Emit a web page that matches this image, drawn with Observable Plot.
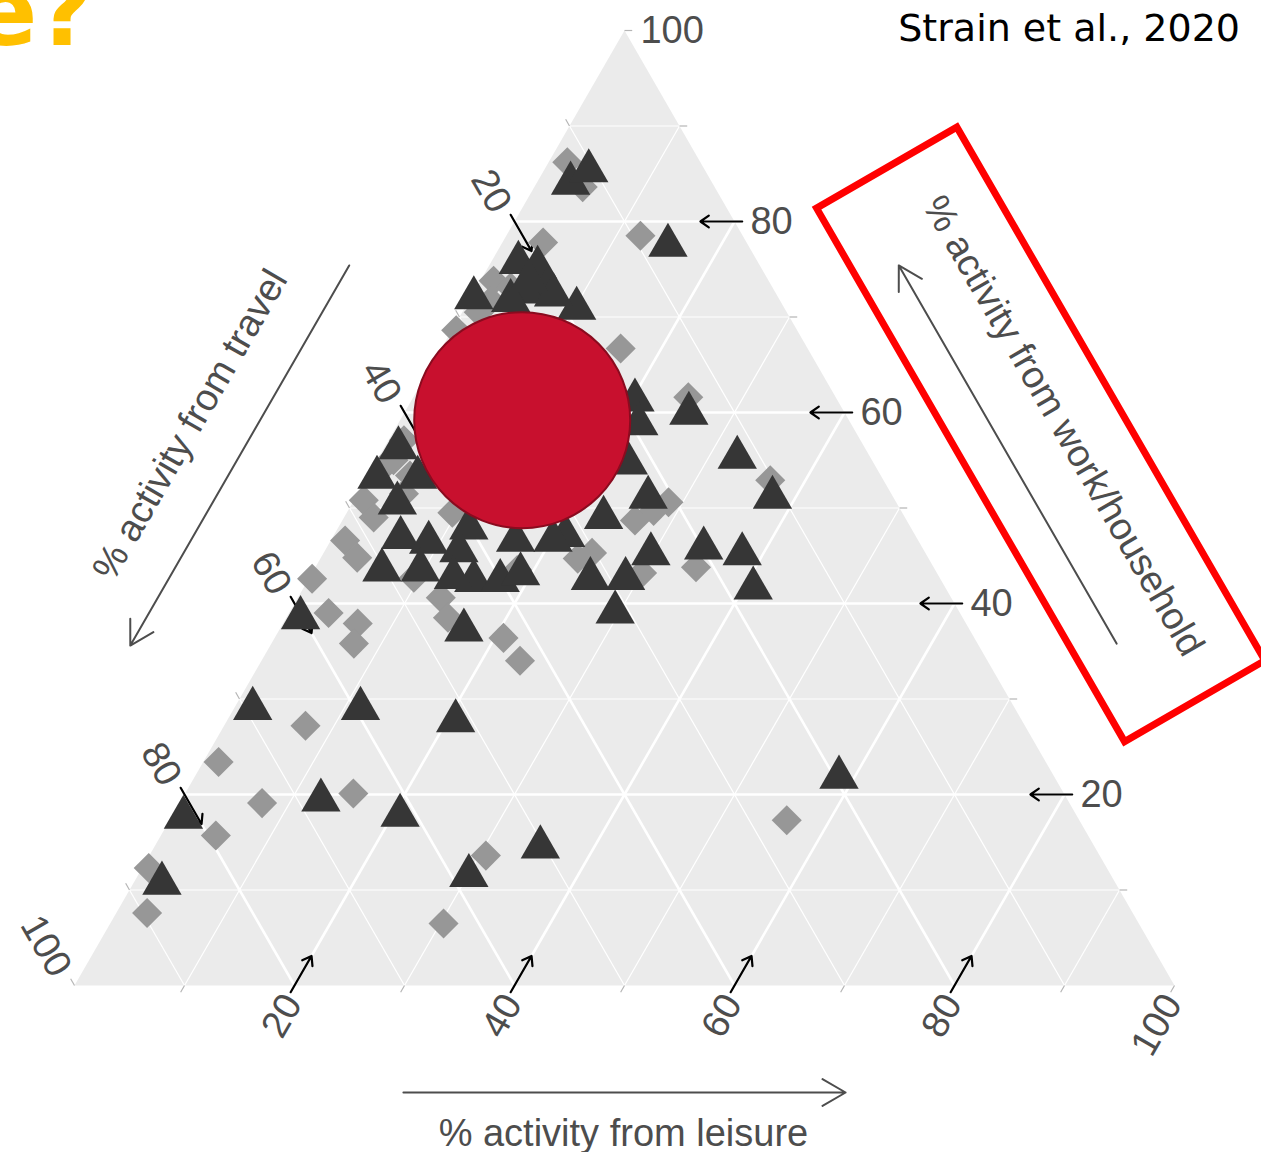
<!DOCTYPE html>
<html>
<head>
<meta charset="utf-8">
<script src="https://cdn.jsdelivr.net/npm/d3@7"></script>
<script src="https://cdn.jsdelivr.net/npm/@observablehq/plot@0.6"></script>
<style>
  html, body { margin: 0; padding: 0; background: #fff; overflow: hidden; }
  #chart { width: 1261px; height: 1152px; }
</style>
</head>
<body>
<div id="chart"></div>
<script>
// Share of daily activity energy expenditure by domain, one point per cohort.
// Each entry: [% work/household, % travel, % leisure]
const groupTriangles = [
  [84.0, 12.9, 3.1], [85.3, 10.6, 4.1], [77.5, 7.3, 15.2], [75.7, 21.8, 2.5],
  [75.2, 20.3, 4.5], [73.1, 20.4, 6.5], [72.6, 22.7, 4.7], [71.7, 24.5, 3.8],
  [72.0, 27.7, 0.3], [70.9, 18.9, 10.2], [72.3, 20.3, 7.4], [73.8, 21.8, 4.4],
  [61.3, 18.4, 20.3], [58.8, 19.3, 21.9], [54.7, 22.3, 23.0], [59.9, 14.2, 25.9],
  [55.3, 12.1, 32.6], [51.1, 11.0, 37.9], [51.1, 22.3, 26.6], [49.0, 27.4, 23.6],
  [45.2, 25.0, 29.8], [45.8, 19.9, 34.3], [45.2, 16.7, 38.1], [41.6, 17.5, 40.9],
  [42.6, 28.6, 28.8], [42.6, 31.8, 25.6], [39.1, 31.3, 29.6], [47.1, 31.8, 21.1],
  [56.3, 42.4, 1.3], [53.2, 45.9, 0.9], [50.5, 45.4, 4.1], [53.2, 42.2, 4.6],
  [46.9, 46.9, 6.2], [46.4, 44.6, 9.0], [47.9, 40.2, 11.9], [43.5, 50.3, 6.2],
  [43.5, 46.8, 9.7], [45.5, 42.3, 12.2], [42.4, 42.5, 15.1], [42.7, 44.2, 13.1],
  [42.4, 40.1, 17.5], [46.6, 36.6, 16.8], [46.6, 33.2, 20.2], [43.1, 37.9, 19.0],
  [37.2, 46.0, 16.8], [38.5, 60.2, 1.3], [29.0, 69.3, 1.7], [29.0, 59.5, 11.5],
  [27.7, 51.5, 20.8], [19.4, 67.9, 12.7], [17.8, 61.5, 20.7], [17.6, 81.3, 1.1],
  [10.7, 86.7, 2.6], [11.5, 58.4, 30.1], [14.5, 50.4, 35.1], [21.8, 19.6, 58.6]
];
const groupDiamonds = [
  [86.2, 12.1, 1.7], [83.6, 12.0, 4.4], [78.5, 9.3, 12.2], [77.8, 18.5, 3.7],
  [73.8, 25.0, 1.2], [73.1, 23.8, 3.1], [71.7, 26.3, 2.0], [68.6, 31.0, 0.4],
  [70.5, 28.0, 1.5], [66.7, 17.0, 16.3], [61.6, 13.4, 25.0], [52.9, 10.3, 36.8],
  [50.6, 20.7, 28.7], [49.7, 22.5, 27.8], [48.7, 24.7, 26.6], [43.8, 21.6, 34.6],
  [44.7, 31.9, 23.4], [45.3, 30.3, 24.4], [43.2, 26.8, 30.0], [54.7, 44.2, 1.1],
  [50.8, 48.3, 0.9], [51.5, 44.3, 4.2], [49.5, 40.9, 9.6], [46.6, 52.1, 1.3],
  [49.0, 48.3, 2.7], [44.8, 51.9, 3.3], [42.7, 47.8, 9.5], [40.6, 46.4, 13.0],
  [38.5, 46.8, 14.7], [39.0, 57.4, 3.6], [37.9, 55.3, 6.8], [35.8, 56.7, 7.5],
  [36.4, 42.8, 20.8], [34.0, 42.5, 23.5], [43.5, 38.0, 18.5], [42.6, 57.1, 0.3],
  [27.2, 65.4, 7.4], [23.4, 75.2, 1.4], [19.1, 73.4, 7.5], [20.1, 64.6, 15.3],
  [15.7, 79.3, 5.0], [12.3, 87.1, 0.6], [7.6, 89.6, 2.8], [13.6, 55.8, 30.6],
  [6.5, 63.2, 30.3], [17.3, 26.6, 56.1], [57.1, 41.5, 1.4], [55.0, 43.5, 1.5],
  [53.4, 42.8, 3.8]
];
// Highlighted typical composition
const highlight = [[59.2, 29.7, 11.1]];

const labelTicks = [20, 40, 60, 80, 100];
const arrowTicks = [20, 40, 60, 80];
const minorTicks = [10, 30, 50, 70, 90, 100];
const gridValues = [10, 20, 30, 40, 50, 60, 70, 80, 90];

const axisTitles = {
  work: "% activity from work/household",
  travel: "% activity from travel",
  leisure: "% activity from leisure"
};
const sourceNote = "Strain et al., 2020";
const slideTitleTail = "e?";

// --- ternary helpers -------------------------------------------------------
const C = (work, travel, leisure) => ({work, travel, leisure});
const rows = arr => arr.map(([w, t, l]) => C(w, t, l));
// Cartesian projection: leisure runs left→right, work bottom→top
const X = d => d.leisure + d.work / 2;
const Y = d => d.work;
const along = (p, dir, s) => C(p.work + s * dir.work, p.travel + s * dir.travel, p.leisure + s * dir.leisure);

const axes = {
  work:    {edge: v => C(v, 0, 100 - v), dir: C(0, 1, -1)},
  travel:  {edge: v => C(100 - v, v, 0), dir: C(-1, 0, 1)},
  leisure: {edge: v => C(0, 100 - v, v), dir: C(1, -1, 0)}
};

const simplex = [C(100, 0, 0), C(0, 100, 0), C(0, 0, 100)];

const grid = gridValues.flatMap(v => [
  {v, a: C(v, 100 - v, 0), b: C(v, 0, 100 - v)},
  {v, a: C(0, 100 - v, v), b: C(100 - v, 0, v)},
  {v, a: C(0, v, 100 - v), b: C(100 - v, v, 0)}
]);
const isMajor = d => d.v % 20 === 0;

const tickArrows = Object.values(axes).flatMap(ax =>
  arrowTicks.map(v => ({a: along(ax.edge(v), ax.dir, -0.7), b: along(ax.edge(v), ax.dir, 3.1)})));
const tickMarks = Object.values(axes).flatMap(ax =>
  minorTicks.map(v => ({a: along(ax.edge(v), ax.dir, -0.7), b: ax.edge(v)})));

const labelsFor = (name, s) => labelTicks.map(v => ({v, p: along(axes[name].edge(v), axes[name].dir, s)}));

// Symbols: equilateral triangle (d3) and a square turned on its corner
const diamond = {
  draw(ctx, size) {
    const r = Math.sqrt(size / 2);
    ctx.moveTo(0, -r); ctx.lineTo(r, 0); ctx.lineTo(0, r); ctx.lineTo(-r, 0); ctx.closePath();
  }
};

const ink = "#4d4d4d";
const font = "Liberation Sans, Arial, sans-serif";

const lk = (sel) => ({x1: d => X(sel(d).a), y1: d => Y(sel(d).a), x2: d => X(sel(d).b), y2: d => Y(sel(d).b)});
const id = d => d;

const chart = Plot.plot({
  width: 1261,
  height: 1152,
  marginLeft: 74,
  marginRight: 87,
  marginTop: 30,
  marginBottom: 167,
  x: {domain: [0, 100], axis: null},
  y: {domain: [0, 100], axis: null},
  style: {fontFamily: font, fontSize: "38px", background: "white", overflow: "visible"},
  marks: [
    // panel
    Plot.line(simplex, {x: X, y: Y, curve: "linear-closed", fill: "#ebebeb", stroke: "none"}),
    Plot.link(grid.filter(d => !isMajor(d)), {...lk(id), stroke: "white", strokeWidth: 1.2}),
    Plot.link(grid.filter(isMajor), {...lk(id), stroke: "white", strokeWidth: 2.6}),
    // ticks and tick arrows
    Plot.link(tickMarks, {...lk(id), stroke: "#b5b5b5", strokeWidth: 1.2}),
    Plot.arrow(tickArrows, {...lk(id), stroke: "black", strokeWidth: 2.2, headLength: 7, headAngle: 70}),
    // tick labels
    Plot.text(labelsFor("work", -1.45), {x: d => X(d.p), y: d => Y(d.p), text: d => String(d.v),
      textAnchor: "start", fill: ink, fontSize: 38}),
    Plot.text(labelsFor("travel", -1.25), {x: d => X(d.p), y: d => Y(d.p), text: d => String(d.v),
      textAnchor: "end", rotate: 60, dx: -6, fill: ink, fontSize: 38}),
    Plot.text(labelsFor("leisure", -1.25), {x: d => X(d.p), y: d => Y(d.p), text: d => String(d.v),
      textAnchor: "end", rotate: -60, dx: 5, fill: ink, fontSize: 38}),
    // axis titles with direction arrows
    Plot.arrow([{a: C(75.4, 24.6, 0), b: C(35.6, 64.4, 0)}], {...lk(id), dx: -140,
      stroke: ink, strokeWidth: 2, headLength: 20, headAngle: 60}),
    Plot.text([C(58.7, 41.3, 0)], {x: X, y: Y, text: () => axisTitles.travel, rotate: -60, dx: -207,
      fill: ink, fontSize: 38}),
    Plot.arrow([{a: C(35.8, 0, 64.2), b: C(75.4, 0, 24.6)}], {...lk(id), dx: 139,
      stroke: ink, strokeWidth: 2, headLength: 20, headAngle: 60}),
    Plot.text([C(58.6, 0, 41.4)], {x: X, y: Y, text: () => axisTitles.work, rotate: 60, dx: 211,
      fill: ink, fontSize: 38}),
    Plot.arrow([{a: C(0, 70.1, 29.9), b: C(0, 29.9, 70.1)}], {...lk(id), dy: 107,
      stroke: ink, strokeWidth: 2, headLength: 20, headAngle: 60}),
    Plot.text([C(0, 50.1, 49.9)], {x: X, y: Y, text: () => axisTitles.leisure, dy: 148,
      fill: ink, fontSize: 38}),
    // data
    Plot.dot(rows(groupDiamonds), {x: X, y: Y, symbol: diamond, r: 12, fill: "#979797", stroke: "none"}),
    Plot.dot(rows(groupTriangles), {x: X, y: Y, symbol: "triangle", r: 14.6, fill: "#363636", stroke: "none"}),
    // highlighted composition
    Plot.dot(rows(highlight), {x: X, y: Y, r: 108, fill: "#c8102e", stroke: "#8a0b1f", strokeWidth: 2})
  ]
});

document.getElementById("chart").appendChild(chart);

// Header texts and the frame around the work/household axis title
const svg = d3.select(chart);
const sx = chart.scale("x"), sy = chart.scale("y");
const titleAnchor = C(58.6, 0, 41.4);
const tx = sx.apply(X(titleAnchor)) + 211, ty = sy.apply(Y(titleAnchor));

svg.append("rect")
  .attr("x", -308).attr("y", -81).attr("width", 616).attr("height", 162)
  .attr("transform", `translate(${tx - 22},${ty + 9}) rotate(60)`)
  .attr("fill", "none").attr("stroke", "#ff0000").attr("stroke-width", 7);

svg.append("text")
  .attr("x", 1240).attr("y", 41)
  .attr("text-anchor", "end")
  .attr("font-family", "DejaVu Sans, Verdana, sans-serif")
  .attr("font-size", 38)
  .attr("fill", "black")
  .text(sourceNote);

svg.append("text")
  .attr("x", 93).attr("y", 45)
  .attr("text-anchor", "end")
  .attr("font-family", "DejaVu Sans, Verdana, sans-serif")
  .attr("font-weight", "bold")
  .attr("font-size", 96)
  .attr("fill", "#ffc000")
  .text(slideTitleTail);
</script>
</body>
</html>
